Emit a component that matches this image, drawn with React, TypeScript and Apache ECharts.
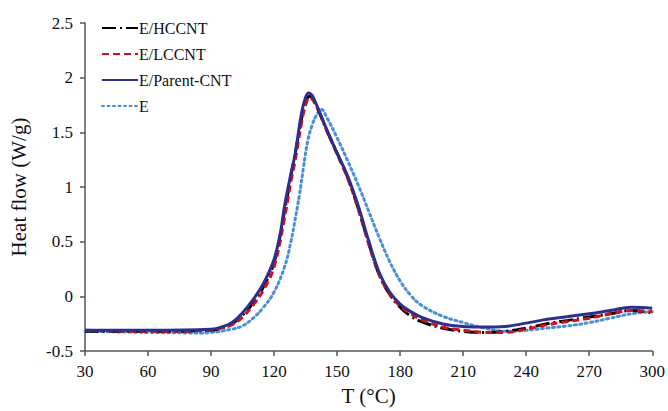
import React, { useEffect, useRef } from "react";
import * as echarts from "echarts";

const seriesNames = ["E/HCCNT", "E/LCCNT", "E/Parent-CNT", "E"];

const hccntT = [30, 60, 90, 95, 100, 105, 110, 115, 120, 125, 128, 130, 133, 135, 137, 139, 142, 145, 150, 155, 160, 165, 170, 175, 180, 185, 190, 200, 210, 220, 230, 240, 250, 260, 270, 280, 290, 300];
const hccntV = [-0.32, -0.32, -0.31, -0.29, -0.25, -0.17, -0.06, 0.09, 0.31, 0.78, 1.1, 1.3, 1.62, 1.78, 1.83, 1.79, 1.66, 1.52, 1.31, 1.09, 0.81, 0.49, 0.2, 0.02, -0.1, -0.18, -0.23, -0.29, -0.32, -0.33, -0.32, -0.29, -0.25, -0.22, -0.19, -0.16, -0.13, -0.15];

const lccntT = [30, 60, 90, 95, 100, 105, 110, 115, 120, 125, 128, 130, 133, 135, 137, 139, 142, 145, 150, 155, 160, 165, 170, 175, 180, 185, 190, 200, 210, 220, 230, 240, 250, 260, 270, 280, 290, 300];
const lccntV = [-0.31, -0.32, -0.31, -0.29, -0.26, -0.19, -0.08, 0.06, 0.27, 0.72, 1.05, 1.24, 1.58, 1.75, 1.82, 1.78, 1.66, 1.52, 1.3, 1.08, 0.8, 0.48, 0.2, 0.02, -0.09, -0.16, -0.21, -0.28, -0.31, -0.33, -0.33, -0.3, -0.26, -0.23, -0.2, -0.16, -0.13, -0.14];

const parentT = [30, 60, 90, 95, 100, 105, 110, 115, 120, 123, 125, 128, 130, 133, 135, 136.5, 138, 140, 142, 145, 150, 155, 160, 165, 170, 175, 180, 185, 190, 200, 210, 220, 230, 240, 250, 260, 270, 280, 290, 300];
const parentV = [-0.31, -0.31, -0.3, -0.28, -0.24, -0.15, -0.03, 0.12, 0.34, 0.58, 0.83, 1.12, 1.3, 1.67, 1.82, 1.86, 1.84, 1.76, 1.67, 1.53, 1.31, 1.1, 0.83, 0.51, 0.22, 0.04, -0.07, -0.14, -0.19, -0.25, -0.275, -0.28, -0.275, -0.245, -0.21, -0.185, -0.16, -0.13, -0.1, -0.11];

const eT = [30, 60, 85, 90, 100, 105, 110, 115, 120, 125, 128, 130, 132, 134, 136, 138, 140, 142.5, 145, 150, 155, 160, 165, 170, 175, 180, 185, 190, 200, 210, 220, 230, 240, 250, 260, 270, 280, 290, 300];
const eV = [-0.32, -0.33, -0.335, -0.33, -0.3, -0.27, -0.2, -0.1, 0.04, 0.27, 0.5, 0.7, 0.92, 1.18, 1.42, 1.56, 1.65, 1.71, 1.64, 1.45, 1.24, 1.02, 0.78, 0.54, 0.32, 0.14, 0.01, -0.08, -0.18, -0.24, -0.29, -0.32, -0.31, -0.29, -0.27, -0.24, -0.2, -0.16, -0.14];

const xTicks = { min: 30, max: 300, interval: 30 };
const yTicks = { min: -0.5, max: 2.5, interval: 0.5 };

const pair = (t: number[], v: number[]) => t.map((x, i) => [x, v[i]]);

export default function App() {
  const ref = useRef<HTMLDivElement>(null);
  useEffect(() => {
    if (!ref.current) return;
    const chart = echarts.init(ref.current, undefined, { renderer: "svg" });
    const font = "Liberation Serif";
    const axisColor = "#555";
    chart.setOption({
      animation: false,
      backgroundColor: "#fff",
      textStyle: { fontFamily: font },
      grid: { left: 83, right: 14, top: 23, bottom: 60, containLabel: false },
      legend: {
        data: seriesNames,
        orient: "vertical",
        left: 96,
        top: 15,
        itemWidth: 36,
        itemHeight: 14,
        itemGap: 10,
        itemStyle: { opacity: 0 },
        textStyle: { fontFamily: font, fontSize: 16, color: "#111", padding: [0, 0, 0, -4] },
      },
      xAxis: {
        type: "value",
        ...xTicks,
        name: "T (°C)",
        nameLocation: "middle",
        nameGap: 34,
        nameTextStyle: { fontFamily: font, fontSize: 21, color: "#111" },
        axisLine: { show: true, onZero: false, lineStyle: { color: axisColor, width: 1.5 } },
        axisTick: { show: true, inside: false, length: 5, lineStyle: { color: axisColor, width: 1.5 } },
        axisLabel: { fontFamily: font, fontSize: 17, color: "#111", margin: 12 },
        splitLine: { show: false },
      },
      yAxis: {
        type: "value",
        ...yTicks,
        name: "Heat flow (W/g)",
        nameLocation: "middle",
        nameGap: 56,
        nameTextStyle: { fontFamily: font, fontSize: 21, color: "#111" },
        axisLine: { show: true, onZero: false, lineStyle: { color: axisColor, width: 1.5 } },
        axisTick: { show: true, inside: false, length: 5, lineStyle: { color: axisColor, width: 1.5 } },
        axisLabel: { fontFamily: font, fontSize: 17, color: "#111", margin: 12 },
        splitLine: { show: false },
      },
      series: [
        {
          name: "E",
          type: "line",
          data: pair(eT, eV),
          smooth: 0.4,
          symbol: "none",
          z: 1,
          lineStyle: { color: "#4a90d9", width: 3, type: [2, 3.5], cap: "round" },
          itemStyle: { color: "#4a90d9" },
        },
        {
          name: "E/HCCNT",
          type: "line",
          data: pair(hccntT, hccntV),
          smooth: 0.4,
          symbol: "none",
          z: 2,
          lineStyle: { color: "#000", width: 3, type: [14, 4, 2, 4] },
          itemStyle: { color: "#000" },
        },
        {
          name: "E/LCCNT",
          type: "line",
          data: pair(lccntT, lccntV),
          smooth: 0.4,
          symbol: "none",
          z: 3,
          lineStyle: { color: "#d0101c", width: 3, type: [7, 4] },
          itemStyle: { color: "#d0101c" },
        },
        {
          name: "E/Parent-CNT",
          type: "line",
          data: pair(parentT, parentV),
          smooth: 0.4,
          symbol: "none",
          z: 4,
          lineStyle: { color: "#2e2f8a", width: 3 },
          itemStyle: { color: "#2e2f8a" },
        },
      ],
    });
    return () => chart.dispose();
  }, []);
  return (
    <div
      ref={ref}
      style={{ position: "fixed", left: 0, top: 0, width: 668, height: 411 }}
    />
  );
}
